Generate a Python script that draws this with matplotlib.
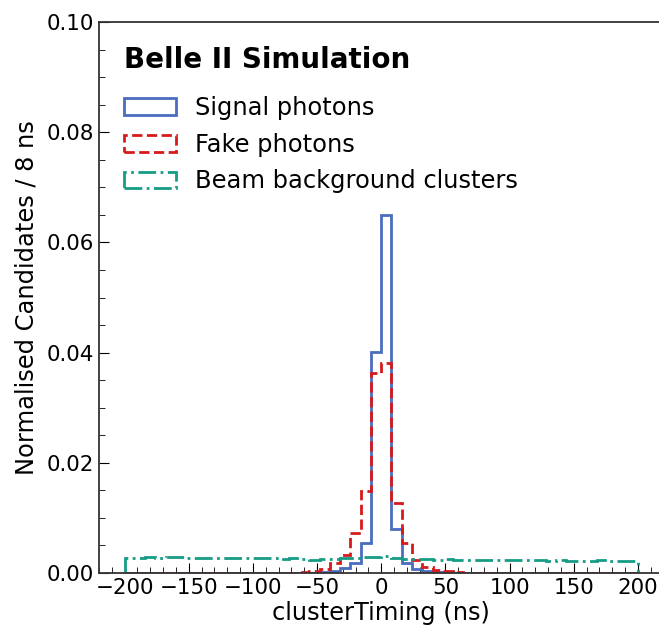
import numpy as np
import matplotlib
matplotlib.use("Agg")
import matplotlib.pyplot as plt
from matplotlib.ticker import MultipleLocator, AutoMinorLocator

# bin edges: 8 ns bins from -200 to 200 (50 bins)
bin_edges = list(range(-200, 201, 8))

# normalised heights per bin (index 25 = [0, 8) ns)
signal = [0.0, 0.0, 0.0, 0.0, 0.0, 0.0, 0.0, 0.0, 0.0, 0.0,
          0.0, 0.0, 0.0, 0.0, 0.0, 0.0, 0.0, 0.0, 0.0, 0.0002,
          0.0004, 0.0009, 0.0019, 0.0055, 0.0402, 0.0649, 0.0080, 0.0019, 0.0007, 0.0004,
          0.0002, 0.0001, 0.0, 0.0, 0.0, 0.0, 0.0, 0.0, 0.0, 0.0,
          0.0, 0.0, 0.0, 0.0, 0.0, 0.0, 0.0, 0.0, 0.0, 0.0]
fake = [0.00002, 0.00002, 0.00002, 0.00002, 0.00002, 0.00002, 0.00002, 0.00002, 0.00003, 0.00003,
        0.00003, 0.00003, 0.00004, 0.00004, 0.00005, 0.00006, 0.00008, 0.0001, 0.0003, 0.0007,
        0.0018, 0.0033, 0.0072, 0.0148, 0.0363, 0.0382, 0.0127, 0.0054, 0.0024, 0.0011,
        0.0006, 0.0003, 0.0001, 0.00008, 0.00006, 0.00005, 0.00004, 0.00004, 0.00003, 0.00003,
        0.00003, 0.00003, 0.00002, 0.00002, 0.00002, 0.00002, 0.00002, 0.00002, 0.00002, 0.00002]
beam = [0.0028, 0.0028, 0.0029, 0.0028, 0.0029, 0.0029, 0.0028, 0.0028, 0.0027, 0.0028,
        0.0028, 0.0027, 0.0028, 0.0027, 0.0027, 0.0026, 0.0027, 0.0025, 0.0024, 0.0025,
        0.0026, 0.0027, 0.0028, 0.0029, 0.0029, 0.0030, 0.0028, 0.0026, 0.0025, 0.0025,
        0.0024, 0.0025, 0.0024, 0.0024, 0.0023, 0.0024, 0.0023, 0.0023, 0.0024, 0.0023,
        0.0023, 0.0022, 0.0023, 0.0022, 0.0022, 0.0022, 0.0023, 0.0022, 0.0022, 0.0021]

labels = ["Signal photons", "Fake photons", "Beam background clusters"]
colors = ["#4A6DBE", "#D7191C", "#169C85"]
styles = ["-", "--", "-."]

edges = np.array(bin_edges, dtype=float)
centers = 0.5 * (edges[:-1] + edges[1:])

plt.rcParams['font.family'] = ['DejaVu Sans']
fig = plt.figure(figsize=(6.59, 6.29), dpi=100)
ax = fig.add_axes([0.150, 0.089, 0.857, 0.876])

for w, c, ls, lab in zip([signal, fake, beam], colors, styles, labels):
    ax.hist(centers, bins=edges, weights=w, histtype='step', color=c,
            linestyle=ls, linewidth=2, label=lab)

for s in ax.spines.values():
    s.set_color('#333333')
    s.set_linewidth(1.3)
ax.spines['right'].set_visible(False)

ax.set_xlim(-220, 220)
ax.set_ylim(0, 0.10)
ax.xaxis.set_major_locator(MultipleLocator(50))
ax.xaxis.set_minor_locator(AutoMinorLocator(5))
ax.yaxis.set_major_locator(MultipleLocator(0.02))
ax.yaxis.set_minor_locator(AutoMinorLocator(4))
ax.tick_params(which='both', direction='in', top=False, right=False, labelsize=15.4)
ax.tick_params(which='major', length=7)
ax.tick_params(which='minor', length=4)
ax.set_xlabel("clusterTiming (ns)", fontsize=17.4, labelpad=2)
ax.set_ylabel("Normalised Candidates / 8 ns", fontsize=17.4, labelpad=6)

ax.text(0.045, 0.957, "Belle II Simulation", transform=ax.transAxes,
        fontsize=20, fontweight='bold', va='top', ha='left')
ax.legend(loc='upper left', bbox_to_anchor=(0.044, 0.866), frameon=False,
          fontsize=17.4, handlelength=2.15, handletextpad=0.8, labelspacing=0.53,
          borderaxespad=0, borderpad=0)

fig.savefig("out.png", dpi=100)
